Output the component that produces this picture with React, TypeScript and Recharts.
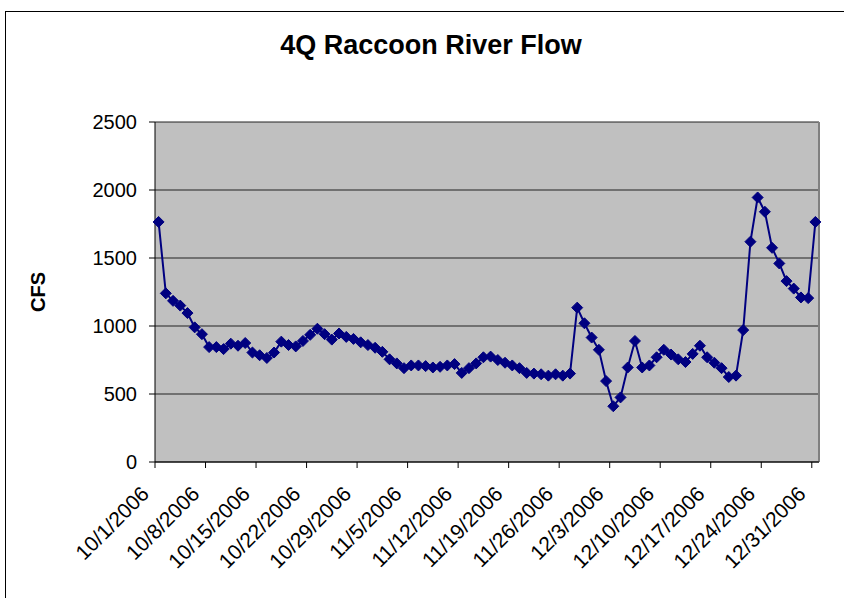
import { CartesianGrid, Line, LineChart, ReferenceLine, XAxis, YAxis } from "recharts";

// Daily mean flow (cfs), 10/1/2006 through 12/31/2006
const dailyFlow = [
  1765, 1240, 1185, 1150, 1095, 990, 940, 845, 845, 830,
  870, 855, 875, 805, 785, 765, 805, 885, 860, 850,
  890, 935, 980, 940, 900, 945, 920, 905, 880, 860,
  840, 810, 755, 725, 690, 710, 710, 705, 695, 700,
  710, 720, 655, 690, 725, 770, 775, 750, 730, 710,
  690, 655, 650, 645, 635, 645, 635, 650, 1135, 1020,
  915, 825, 595, 410, 475, 695, 890, 695, 710, 770,
  825, 790, 755, 735, 795, 855, 770, 730, 690, 625,
  635, 970, 1620, 1945, 1840, 1575, 1460, 1330, 1275, 1210,
  1205, 1765,
];

const tickDays = [0, 7, 14, 21, 28, 35, 42, 49, 56, 63, 70, 77, 84, 91];
const tickLabels = [
  "10/1/2006", "10/8/2006", "10/15/2006", "10/22/2006", "10/29/2006",
  "11/5/2006", "11/12/2006", "11/19/2006", "11/26/2006", "12/3/2006",
  "12/10/2006", "12/17/2006", "12/24/2006", "12/31/2006",
];
const cfsTicks = [0, 500, 1000, 1500, 2000, 2500];

const FONT = '"Liberation Sans", Arial, sans-serif';
const NAVY = "#000080";

// each day sits in the middle of its slot on the date axis
const rows = dailyFlow.map((cfs, i) => ({ day: i + 0.5, cfs }));

function Diamond({ cx, cy }: { cx?: number; cy?: number }) {
  if (cx == null || cy == null) return null;
  const r = 5.5;
  return (
    <path
      d={`M${cx},${cy - r}L${cx + r},${cy}L${cx},${cy + r}L${cx - r},${cy}Z`}
      fill={NAVY}
      stroke={NAVY}
      strokeWidth={1}
    />
  );
}

function DateTick({ x, y, payload }: any) {
  const label = tickLabels[tickDays.indexOf(payload.value)];
  return (
    <text
      transform={`translate(${x - 10},${y + 20}) rotate(-45)`}
      textAnchor="end"
      dominantBaseline="central"
      fontFamily={FONT}
      fontSize={21}
      fill="#000"
    >
      {label}
    </text>
  );
}

export default function App() {
  return (
    <div
      style={{
        position: "absolute",
        left: 0,
        top: 0,
        width: 844,
        height: 598,
        overflow: "hidden",
        background: "#fff",
        fontFamily: FONT,
      }}
    >
      <div
        style={{
          position: "absolute",
          left: 5,
          top: 11,
          width: 860,
          height: 620,
          borderLeft: "1px solid #000",
          borderTop: "1px solid #000",
        }}
      />
      <div
        style={{
          position: "absolute",
          left: 0,
          width: 862,
          top: 30,
          textAlign: "center",
          fontSize: 27,
          fontWeight: "bold",
        }}
      >
        4Q Raccoon River Flow
      </div>
      <div
        style={{
          position: "absolute",
          left: 38,
          top: 292,
          transform: "translate(-50%, -50%) rotate(-90deg)",
          fontSize: 20,
          fontWeight: "bold",
          whiteSpace: "nowrap",
        }}
      >
        CFS
      </div>
      <div style={{ position: "absolute", left: 0, top: 0 }}>
        <LineChart
          width={844}
          height={598}
          data={rows}
          margin={{ top: 122, right: 25, left: 95, bottom: 36 }}
        >
          <CartesianGrid vertical={false} stroke="#222" fill="#C0C0C0" />
          <ReferenceLine x={92} stroke="#808080" strokeWidth={2} />
          <XAxis
            type="number"
            dataKey="day"
            domain={[0, 92]}
            ticks={tickDays}
            interval={0}
            height={100}
            tickSize={6}
            axisLine={{ stroke: "#000" }}
            tickLine={{ stroke: "#000" }}
            tick={<DateTick />}
          />
          <YAxis
            domain={[0, 2500]}
            ticks={cfsTicks}
            interval={0}
            width={60}
            tickSize={6}
            tickMargin={12}
            axisLine={{ stroke: "#000" }}
            tickLine={{ stroke: "#000" }}
            tick={{ fontSize: 20, fill: "#000", fontFamily: FONT }}
          />
          <Line
            dataKey="cfs"
            stroke={NAVY}
            strokeWidth={2}
            dot={<Diamond />}
            isAnimationActive={false}
          />
        </LineChart>
      </div>
    </div>
  );
}
